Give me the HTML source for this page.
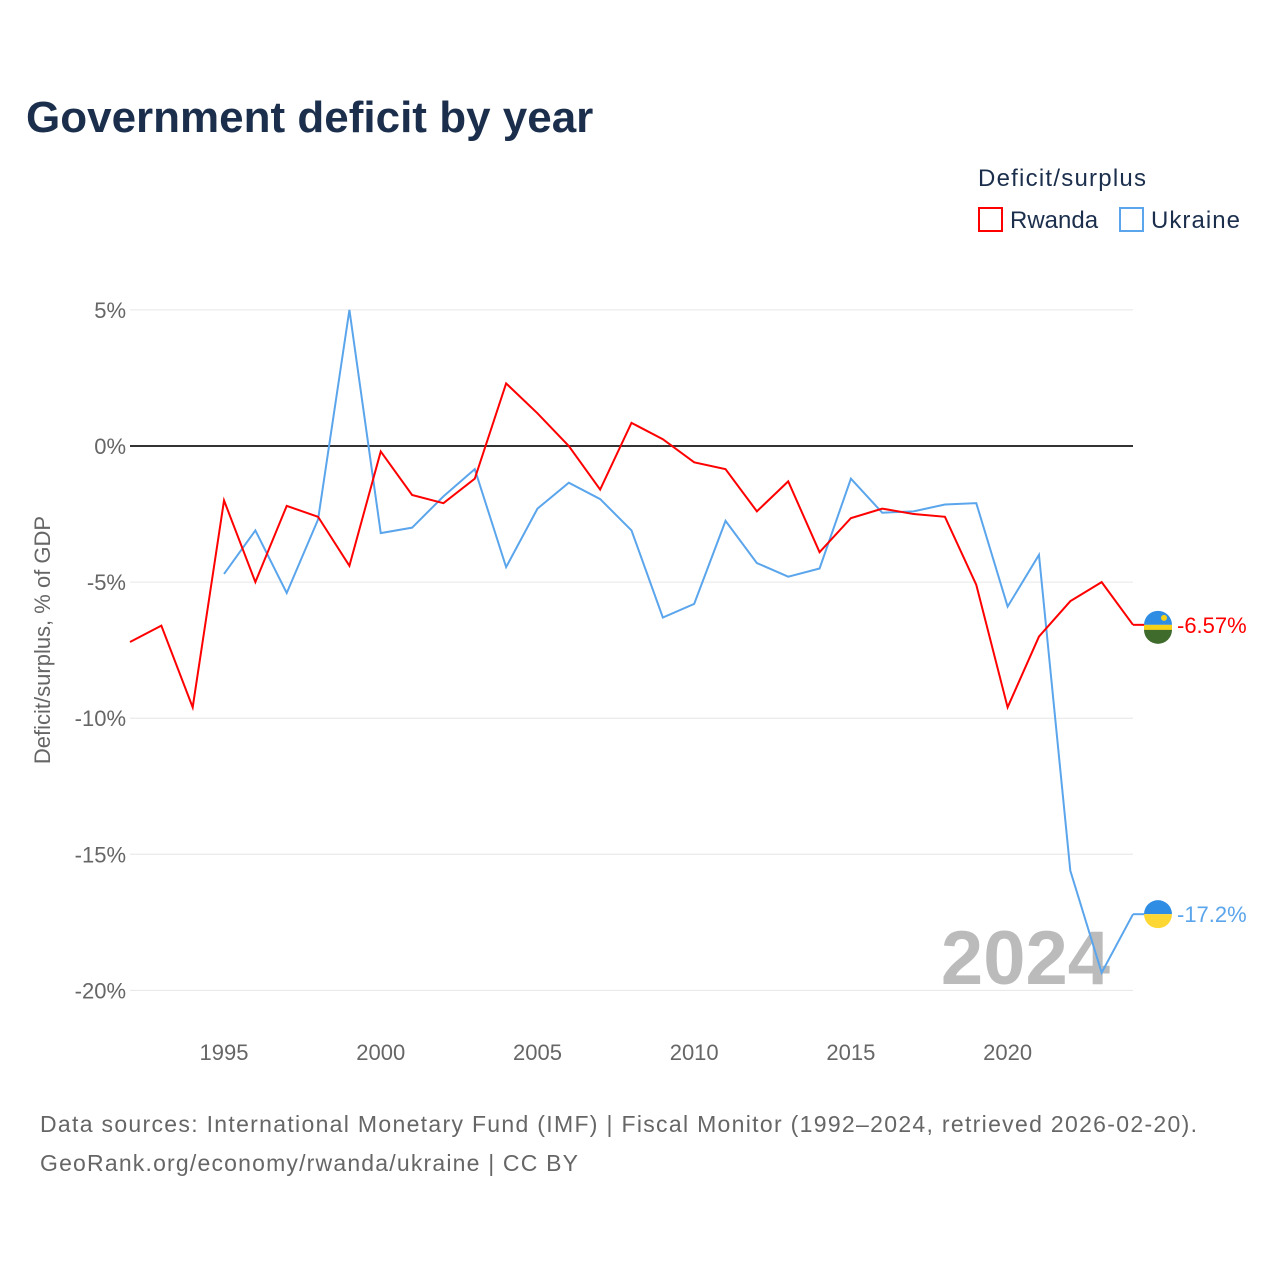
<!DOCTYPE html>
<html><head><meta charset="utf-8"><style>
body{margin:0;background:#fff;font-family:"Liberation Sans",sans-serif;}
svg text{font-family:"Liberation Sans",sans-serif;}
</style></head><body>
<svg width="1280" height="1280" id="chart">
<text x="26" y="132" font-size="44" font-weight="bold" fill="#1b2f4d">Government deficit by year</text>
<text x="978" y="186" font-size="24" fill="#1b2f4d" textLength="168">Deficit/surplus</text>
<g><rect x="979" y="208" width="23" height="23" fill="none" stroke="#ff0000" stroke-width="2"/><text x="1010" y="228" font-size="24" fill="#1b2f4d">Rwanda</text></g>
<g><rect x="1120" y="208" width="23" height="23" fill="none" stroke="#5aa5ec" stroke-width="2"/><text x="1151" y="228" font-size="24" fill="#1b2f4d" textLength="89">Ukraine</text></g>
<text transform="translate(50,640) rotate(-90)" text-anchor="middle" font-size="22" fill="#666">Deficit/surplus, % of GDP</text>
<g id="grid"></g>
<text x="1110" y="984" text-anchor="end" font-size="76" font-weight="bold" fill="#bbb">2024</text>
<g id="plot"></g>
<text x="40" y="1132" font-size="23" fill="#666" textLength="1157">Data sources: International Monetary Fund (IMF) | Fiscal Monitor (1992–2024, retrieved 2026-02-20).</text>
<text x="40" y="1171" font-size="23" fill="#666" textLength="538">GeoRank.org/economy/rwanda/ukraine | CC BY</text>
</svg>
<script>
const years=[];for(let y=1992;y<=2024;y++)years.push(y);
const rwanda=[-7.2,-6.6,-9.6,-2.0,-5.0,-2.2,-2.6,-4.4,-0.2,-1.8,-2.1,-1.2,2.3,1.2,0.0,-1.6,0.85,0.25,-0.6,-0.85,-2.4,-1.3,-3.9,-2.65,-2.3,-2.5,-2.6,-5.1,-9.6,-7.0,-5.7,-5.0,-6.57];
const ukraine=[null,null,null,-4.7,-3.1,-5.4,-2.7,5.0,-3.2,-3.0,-1.85,-0.85,-4.45,-2.3,-1.35,-1.95,-3.1,-6.3,-5.8,-2.75,-4.3,-4.8,-4.5,-1.2,-2.45,-2.4,-2.15,-2.1,-5.9,-4.0,-15.6,-19.35,-17.2];
const yTicks=[5,0,-5,-10,-15,-20];
const xTicks=[1995,2000,2005,2010,2015,2020];
const X=y=>130+(y-1992)*(1133-130)/32;
const Y=v=>446-v*27.22;
const NS="http://www.w3.org/2000/svg";
const grid=document.getElementById('grid'),plot=document.getElementById('plot');
function mk(tag,attrs,parent){const e=document.createElementNS(NS,tag);for(const k in attrs)e.setAttribute(k,attrs[k]);parent.appendChild(e);return e;}
yTicks.forEach(t=>{
 const l=mk('line',{x1:130,x2:1133,y1:Y(t),y2:Y(t),stroke:t===0?'#333':'#e6e6e6','stroke-width':t===0?2:1},grid);
 
 
 const tx=mk('text',{x:126,y:Y(t)+8,'text-anchor':'end','font-size':22,fill:'#666'},grid);
 tx.textContent=t+'%';
 
 
});
xTicks.forEach(t=>{
 const tx=mk('text',{x:X(t),y:1060,'text-anchor':'middle','font-size':22,fill:'#666'},grid);
 tx.textContent=t;
 
 
});
function line(data,color,name){
 let d='';data.forEach((v,i)=>{if(v===null)return;d+=(d?'L':'M')+X(years[i])+','+Y(v);});
 const p=mk('path',{d:d,fill:'none',stroke:color,'stroke-width':2},plot);
 
 
}
line(ukraine,'#5aa5ec','ukraine-line');
line(rwanda,'#ff0000','rwanda-line');
function endLabel(v,color,name,label,flag){
 const y=Y(v);
 mk('line',{x1:1133,x2:1145,y1:y,y2:y,stroke:color,'stroke-width':2},plot);
 const g=mk('g',{},plot);
 
 
 if(flag==='rw'){
  mk('path',{d:`M1144,${y}a14,14 0 0 1 28,0z`,fill:'#2f8de4'},g);
  mk('rect',{x:1144,y:y,width:28,height:6,fill:'#f7d117'},g);
  mk('path',{d:`M1144,${y+5}a14,14 0 0 0 28,0z`,fill:'#3f6b2c'},g);
  mk('circle',{cx:1164,cy:y-7,r:3,fill:'#f7d117'},g);
 }else{
  mk('path',{d:`M1144,${y}a14,14 0 0 1 28,0z`,fill:'#2f8de4'},g);
  mk('path',{d:`M1144,${y}a14,14 0 0 0 28,0z`,fill:'#fdd835'},g);
 }
 const t=mk('text',{x:1177,y:y+8,'font-size':22,fill:color},plot);
 t.textContent=label;
 
 
}
endLabel(rwanda[32],'#ff0000','rwanda','-6.57%','rw');
endLabel(ukraine[32],'#5aa5ec','ukraine','-17.2%','ua');
</script>
</body></html>
